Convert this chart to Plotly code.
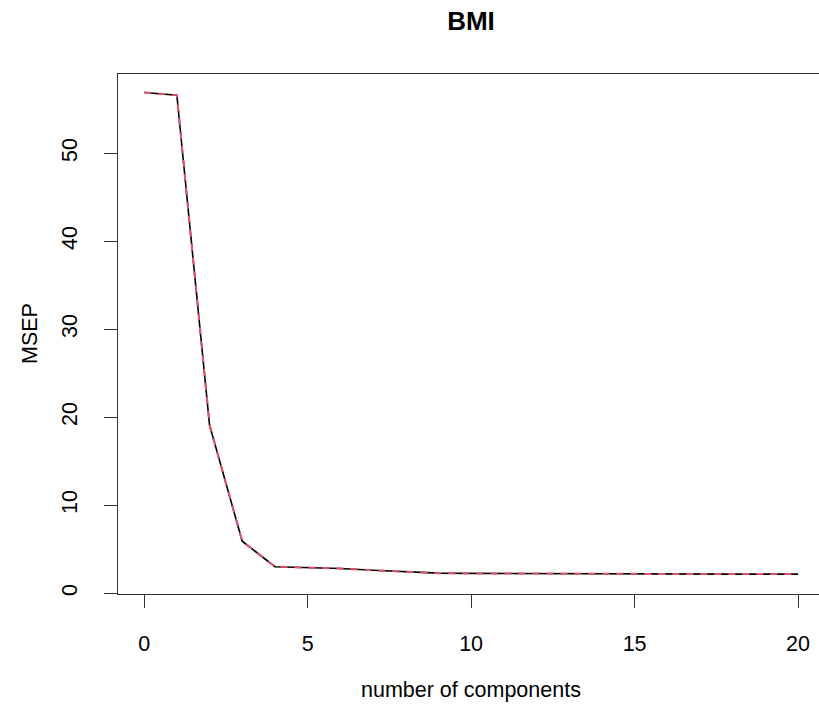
import plotly.graph_objects as go

components = list(range(0, 21))
cv_msep = [56.9, 56.6, 19.1, 5.9, 3.0, 2.9, 2.8, 2.6, 2.45, 2.27, 2.24, 2.22, 2.2, 2.19, 2.18, 2.17, 2.17, 2.16, 2.16, 2.16, 2.16]
adjcv_msep = [56.9, 56.6, 19.1, 5.9, 3.0, 2.9, 2.8, 2.6, 2.45, 2.27, 2.24, 2.22, 2.2, 2.19, 2.18, 2.17, 2.17, 2.16, 2.16, 2.16, 2.16]
x_ticks = [0, 5, 10, 15, 20]
y_ticks = [0, 10, 20, 30, 40, 50]

FONT = "Liberation Sans, Arial, Helvetica, sans-serif"

fig = go.Figure()
fig.add_trace(go.Scatter(x=components, y=cv_msep, mode="lines", name="CV",
                         line=dict(color="black", width=1.6)))
fig.add_trace(go.Scatter(x=components, y=adjcv_msep, mode="lines", name="adjCV",
                         line=dict(color="#DF536B", width=2, dash="7px,7px")))

fig.update_layout(
    width=819, height=705,
    margin=dict(l=118, r=0, t=74, b=111),
    paper_bgcolor="white", plot_bgcolor="white",
    showlegend=False,
    font=dict(family=FONT, color="black", size=21),
    title=dict(text="<b>BMI</b>", x=(118 + 824) / 2 / 819, xanchor="center",
               y=1 - 21 / 705, yanchor="middle",
               font=dict(family=FONT, size=26, color="black")),
)
fig.update_xaxes(range=[-0.8, 20.64], tickvals=x_ticks, ticktext=[str(v) for v in x_ticks],
                 showgrid=False, zeroline=False, showline=True, mirror=True,
                 linecolor="#333333", linewidth=1.2, ticks="outside", ticklen=13,
                 tickcolor="#333333", tickwidth=1.2, ticklabelstandoff=17,
                 tickfont=dict(size=21.5, family=FONT, color="black"))
fig.update_yaxes(range=[-0.1, 59.0], tickvals=y_ticks, ticktext=[str(v) for v in y_ticks],
                 showgrid=False, zeroline=False, showline=True, mirror=False,
                 linecolor="#333333", linewidth=1.2, ticks="outside", ticklen=13,
                 tickcolor="#333333", tickwidth=1.2, tickangle=-90, ticklabelstandoff=18,
                 tickfont=dict(size=21.5, family=FONT, color="black"))

fig.add_annotation(text="number of components", xref="paper", yref="paper",
                   x=(471 - 118) / 701, y=-(690 - 594) / 520, xanchor="center", yanchor="middle",
                   showarrow=False, font=dict(size=21.5, family=FONT, color="black"))
fig.add_annotation(text="MSEP", xref="paper", yref="paper",
                   x=-(118 - 30) / 701, y=0.5, xanchor="center", yanchor="middle", textangle=-90,
                   showarrow=False, font=dict(size=21.5, family=FONT, color="black"))

fig.write_html("out.html", config={"displayModeBar": False},
               post_script="document.body.style.margin='0';document.body.style.overflow='hidden';")
